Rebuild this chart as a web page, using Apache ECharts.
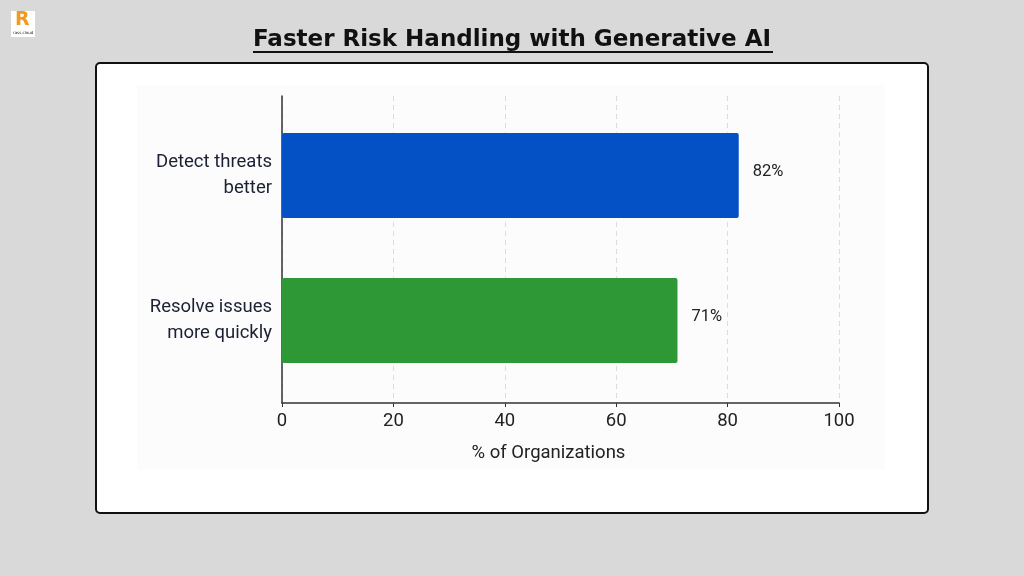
<!DOCTYPE html>
<html><head><meta charset="utf-8">
<script src="https://cdn.jsdelivr.net/npm/echarts@6/dist/echarts.min.js"></script>
<style>html,body{margin:0;padding:0;background:#d9d9d9;}#c{width:1024px;height:576px;}</style>
</head><body><div id="c"></div>
<script>
const categories = ['Detect threats\nbetter', 'Resolve issues\nmore quickly'];
const values = [82, 71];
const barColors = ['#0451C6', '#2E9736'];
const xTicks = [0, 20, 40, 60, 80, 100];
const titleText = 'Faster Risk Handling with Generative AI';
const xName = '% of Organizations';

const chart = echarts.init(document.getElementById('c'), null, {renderer: 'canvas'});
const font = 'Roboto, "Open Sans", sans-serif';
chart.setOption({
  backgroundColor: '#d9d9d9',
  animation: false,
  title: {
    text: titleText, left: 'center', top: 24,
    textStyle: {fontFamily: '"DejaVu Sans", sans-serif', fontWeight: 'bold', fontSize: 23, color: '#111'}
  },
  graphic: [
    {type: 'rect', z: -10, shape: {x: 96, y: 63, width: 832, height: 450, r: 4}, style: {fill: '#ffffff', stroke: '#111', lineWidth: 2}},
    {type: 'rect', z: -9, shape: {x: 137, y: 85, width: 748, height: 385}, style: {fill: '#fcfcfc'}},
    {type: 'rect', shape: {x: 253, y: 51, width: 520, height: 2}, style: {fill: '#111'}},
    {type: 'rect', shape: {x: 11, y: 11, width: 24, height: 26}, style: {fill: '#ffffff'}},
    {type: 'text', style: {x: 15, y: 11, text: 'R', fontSize: 19, fontWeight: 'bold', fill: '#F39A1E', fontFamily: 'DejaVu Sans'}},
    {type: 'text', style: {x: 13, y: 31, text: 'rass cloud', fontSize: 4, fill: '#222', fontFamily: 'DejaVu Sans'}}
  ],
  grid: [
    {left: 282, right: 185, top: 96, bottom: 173},
    {left: 282, right: 185, top: 103, bottom: 183}
  ],
  xAxis: [
    {
      gridIndex: 0, type: 'value', min: 0, max: 100, interval: 20,
      name: xName, nameLocation: 'middle', nameGap: 41,
      nameTextStyle: {fontFamily: font, fontSize: 18.5, color: '#222', padding: [0, 24, 0, 0]},
      axisLine: {show: true, lineStyle: {color: '#333', width: 1.5}},
      axisTick: {show: true, length: 4, lineStyle: {color: '#333'}},
      axisLabel: {fontFamily: font, fontSize: 18.5, color: '#222', margin: 9,
        formatter: v => xTicks.includes(v) ? String(v) : ''},
      splitLine: {show: true, lineStyle: {color: '#dcdcdc', type: [5, 4], width: 1}}
    },
    {gridIndex: 1, type: 'value', min: 0, max: 100, show: false, splitLine: {show: false}}
  ],
  yAxis: [
    {gridIndex: 0, type: 'category', data: categories, inverse: true,
      axisLine: {show: true, lineStyle: {color: '#333', width: 1.5}}, axisTick: {show: false}, axisLabel: {show: false}},
    {gridIndex: 1, type: 'category', data: categories, inverse: true,
      axisLine: {show: false}, axisTick: {show: false},
      axisLabel: {fontFamily: font, fontSize: 18.5, color: '#1c2033', margin: 10, align: 'right', lineHeight: 26}}
  ],
  series: [{
    type: 'bar', xAxisIndex: 1, yAxisIndex: 1, barWidth: 85,
    data: values.map((v, i) => ({value: v, itemStyle: {color: barColors[i], borderRadius: 2}})),
    label: {show: true, position: 'right', distance: 14, offset: [0, -4], formatter: p => p.value + '%',
      fontFamily: font, fontSize: 16.5, color: '#222'}
  }]
});
</script></body></html>
